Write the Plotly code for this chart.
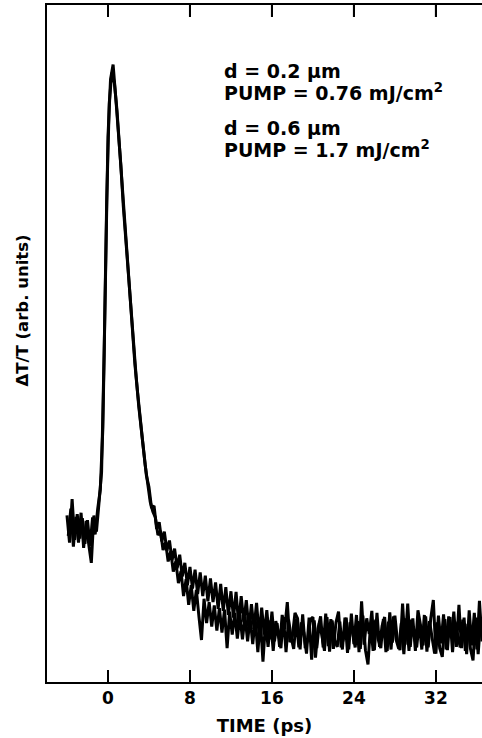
import plotly.graph_objects as go

# Time samples (ps) for the two traces
time_a = [-4.0, -3.75, -3.5, -3.25, -3.0, -2.75, -2.5, -2.25, -2.0, -1.75, -1.5, -1.25,
          -1.0, -0.75, -0.5, -0.25, 0.0, 0.25, 0.5, 0.75, 1.0, 1.25, 1.5, 1.75,
          2.0, 2.25, 2.5, 2.75, 3.0, 3.25, 3.5, 3.75, 4.0, 4.25, 4.5, 4.75,
          5.0, 5.25, 5.5, 5.75, 6.0, 6.25, 6.5, 6.75, 7.0, 7.25, 7.5, 7.75,
          8.0, 8.25, 8.5, 8.75, 9.0, 9.25, 9.5, 9.75, 10.0, 10.25, 10.5, 10.75,
          11.0, 11.25, 11.5, 11.75, 12.0, 12.25, 12.5, 12.75, 13.0, 13.25, 13.5, 13.75,
          14.0, 14.25, 14.5, 14.75, 15.0, 15.25, 15.5, 15.75, 16.0, 16.25, 16.5, 16.75,
          17.0, 17.25, 17.5, 17.75, 18.0, 18.25, 18.5, 18.75, 19.0, 19.25, 19.5, 19.75,
          20.0, 20.25, 20.5, 20.75, 21.0, 21.25, 21.5, 21.75, 22.0, 22.25, 22.5, 22.75,
          23.0, 23.25, 23.5, 23.75, 24.0, 24.25, 24.5, 24.75, 25.0, 25.25, 25.5, 25.75,
          26.0, 26.25, 26.5, 26.75, 27.0, 27.25, 27.5, 27.75, 28.0, 28.25, 28.5, 28.75,
          29.0, 29.25, 29.5, 29.75, 30.0, 30.25, 30.5, 30.75, 31.0, 31.25, 31.5, 31.75,
          32.0, 32.25, 32.5, 32.75, 33.0, 33.25, 33.5, 33.75, 34.0, 34.25, 34.5, 34.75,
          35.0, 35.25, 35.5, 35.75, 36.0, 36.25, 36.5]

# d = 0.2 um, pump 0.76 mJ/cm^2 (arb. units)
signal_a = [24.6, 20.6, 27.0, 21.0, 24.8, 21.2, 24.2, 20.4, 23.9, 20.1, 24.3, 21.8,
            25.6, 28.4, 37.5, 61.0, 80.5, 89.0, 91.2, 86.5, 82.0, 76.5, 70.2, 65.0,
            59.6, 54.2, 49.3, 45.1, 40.8, 37.4, 33.6, 30.5, 28.8, 25.7, 26.0, 22.6,
            23.6, 20.8, 22.2, 19.4, 20.9, 18.0, 19.7, 16.8, 18.8, 15.6, 17.6, 14.3,
            17.0, 13.8, 16.6, 13.0, 16.2, 12.7, 15.7, 11.9, 15.3, 11.8, 14.7, 10.8,
            14.5, 10.5, 14.0, 9.9, 13.4, 9.5, 13.3, 8.6, 12.7, 8.8, 12.1, 7.8,
            11.5, 7.9, 11.7, 6.9, 11.0, 7.0, 10.6, 6.3, 10.4, 6.0, 8.7, 5.2,
            9.9, 7.8, 11.8, 5.9, 6.8, 10.2, 9.4, 4.8, 10.0, 5.0, 6.3, 9.2,
            9.6, 3.6, 7.9, 9.7, 5.1, 10.1, 5.3, 9.3, 4.9, 8.8, 10.4, 5.1,
            6.5, 9.5, 4.8, 10.1, 5.6, 9.9, 4.4, 11.9, 5.5, 9.4, 7.1, 10.5,
            4.7, 10.2, 5.2, 8.3, 9.6, 4.6, 10.3, 5.8, 9.8, 6.0, 4.7, 11.6,
            5.5, 11.6, 5.2, 9.4, 4.6, 10.6, 8.4, 5.4, 9.7, 5.1, 9.4, 12.1,
            4.2, 9.8, 5.7, 10.0, 4.8, 9.7, 6.5, 10.4, 5.2, 11.4, 5.0, 9.5,
            4.1, 10.6, 5.4, 10.2, 4.8, 12.0, 6.0]

time_b = [-3.875, -3.625, -3.375, -3.125, -2.875, -2.625, -2.375, -2.125, -1.875, -1.625, -1.375, -1.125,
          -0.875, -0.625, -0.375, -0.125, 0.125, 0.375, 0.625, 0.875, 1.125, 1.375, 1.625, 1.875,
          2.125, 2.375, 2.625, 2.875, 3.125, 3.375, 3.625, 3.875, 4.125, 4.375, 4.625, 4.875,
          5.125, 5.375, 5.625, 5.875, 6.125, 6.375, 6.625, 6.875, 7.125, 7.375, 7.625, 7.875,
          8.125, 8.375, 8.625, 8.875, 9.125, 9.375, 9.625, 9.875, 10.125, 10.375, 10.625, 10.875,
          11.125, 11.375, 11.625, 11.875, 12.125, 12.375, 12.625, 12.875, 13.125, 13.375, 13.625, 13.875,
          14.125, 14.375, 14.625, 14.875, 15.125, 15.375, 15.625, 15.875, 16.125, 16.375, 16.625, 16.875,
          17.125, 17.375, 17.625, 17.875, 18.125, 18.375, 18.625, 18.875, 19.125, 19.375, 19.625, 19.875,
          20.125, 20.375, 20.625, 20.875, 21.125, 21.375, 21.625, 21.875, 22.125, 22.375, 22.625, 22.875,
          23.125, 23.375, 23.625, 23.875, 24.125, 24.375, 24.625, 24.875, 25.125, 25.375, 25.625, 25.875,
          26.125, 26.375, 26.625, 26.875, 27.125, 27.375, 27.625, 27.875, 28.125, 28.375, 28.625, 28.875,
          29.125, 29.375, 29.625, 29.875, 30.125, 30.375, 30.625, 30.875, 31.125, 31.375, 31.625, 31.875,
          32.125, 32.375, 32.625, 32.875, 33.125, 33.375, 33.625, 33.875, 34.125, 34.375, 34.625, 34.875,
          35.125, 35.375, 35.625, 35.875, 36.125, 36.375]

# d = 0.6 um, pump 1.7 mJ/cm^2 (arb. units)
signal_b = [21.6, 25.6, 20.0, 24.4, 20.6, 25.0, 19.8, 23.8, 20.3, 17.6, 24.6, 22.2,
            26.5, 31.0, 48.5, 71.0, 85.5, 90.0, 88.5, 84.5, 79.0, 73.5, 67.8, 62.0,
            57.0, 51.5, 47.0, 43.0, 38.8, 35.6, 32.1, 29.5, 26.6, 25.2, 24.3, 21.7,
            22.3, 19.5, 20.6, 17.8, 19.3, 16.3, 17.8, 14.6, 16.4, 12.7, 15.2, 11.4,
            14.3, 10.5, 13.6, 9.7, 6.2, 12.3, 8.7, 11.8, 8.2, 11.3, 7.6, 10.9,
            7.3, 10.7, 5.0, 10.4, 7.0, 10.2, 6.4, 9.9, 6.3, 9.7, 6.0, 9.5,
            5.6, 9.3, 4.4, 9.2, 3.0, 8.8, 5.2, 9.1, 4.6, 9.0, 7.4, 5.0,
            9.6, 4.4, 9.2, 6.6, 4.9, 9.3, 5.1, 8.8, 7.2, 4.2, 9.5, 3.3,
            9.1, 5.0, 8.7, 6.9, 4.6, 9.6, 4.5, 9.1, 6.1, 5.2, 8.9, 4.8,
            9.5, 4.3, 8.8, 7.4, 5.1, 9.0, 4.9, 9.8, 4.7, 2.6, 8.6, 4.6,
            9.2, 6.3, 5.0, 9.3, 4.4, 8.9, 4.8, 9.7, 6.2, 4.9, 8.7, 4.1,
            9.4, 4.6, 9.2, 6.9, 5.1, 8.8, 4.8, 9.9, 4.5, 9.0, 6.6, 4.2,
            8.8, 5.0, 3.7, 9.3, 4.7, 9.6, 4.4, 8.9, 7.0, 5.1, 9.2, 4.6,
            8.6, 4.9, 3.2, 9.5, 4.1, 9.3]

x_ticks = [0, 8, 16, 24, 32]
x_tick_labels = ["0", "8", "16", "24", "32"]
x_range = [-5.95, 36.5]
y_range = [0, 100]

FONT = "DejaVu Sans"
PLOT_H = 738 - 5 - 56
TICK_LEN = 12

fig = go.Figure()
fig.add_trace(go.Scatter(x=time_a, y=signal_a, mode="lines",
                         line=dict(color="black", width=3.0), showlegend=False,
                         hoverinfo="skip"))
fig.add_trace(go.Scatter(x=time_b, y=signal_b, mode="lines",
                         line=dict(color="black", width=3.0), showlegend=False,
                         hoverinfo="skip"))

# tick marks along the top frame (same time values as the bottom axis)
tick_depth = (y_range[1] - y_range[0]) * TICK_LEN / PLOT_H
top_x, top_y = [], []
for v in x_ticks:
    top_x += [v, v, None]
    top_y += [y_range[1], y_range[1] - tick_depth, None]
fig.add_trace(go.Scatter(x=top_x, y=top_y, mode="lines", cliponaxis=False,
                         line=dict(color="black", width=2), showlegend=False,
                         hoverinfo="skip"))

fig.update_layout(
    width=482, height=738,
    margin=dict(l=47, r=0, t=5, b=56, autoexpand=False),
    paper_bgcolor="white", plot_bgcolor="white",
    font=dict(family=FONT, color="black"),
    xaxis=dict(range=x_range, tickvals=x_ticks, ticktext=x_tick_labels,
               ticks="inside", ticklen=TICK_LEN, tickwidth=2, tickcolor="black",
               showline=True, linewidth=2, linecolor="black", mirror="allticks",
               showgrid=False, zeroline=False, automargin=False,
               tickfont=dict(family=FONT, size=17, color="black", weight="bold"),
               title=dict(text="TIME (ps)", font=dict(family=FONT, size=18, weight="bold"),
                          standoff=12)),
    yaxis=dict(range=y_range, showticklabels=False, ticks="",
               showline=True, linewidth=2, linecolor="black", mirror=False,
               showgrid=False, zeroline=False, automargin=False),
)

fig.add_annotation(text="ΔT/T (arb. units)", xref="paper", yref="paper",
                   x=-0.057, y=0.549, textangle=-90, showarrow=False,
                   xanchor="center", yanchor="middle",
                   font=dict(family=FONT, size=16.5, weight="bold", color="black"))

ann_lines = ["d = 0.2 μm", "PUMP = 0.76 mJ/cm<sup>2</sup>",
             "d = 0.6 μm", "PUMP = 1.7 mJ/cm<sup>2</sup>"]
ann_y = [0.9025, 0.8715, 0.8183, 0.7873]
for txt, yy in zip(ann_lines, ann_y):
    fig.add_annotation(text=txt, xref="paper", yref="paper", x=0.402, y=yy,
                       xanchor="left", yanchor="middle", showarrow=False,
                       font=dict(family=FONT, size=19, weight="bold", color="black"))

fig.write_html("out.html", config={"displayModeBar": False},
               post_script="document.body.style.margin='0';document.body.style.overflow='hidden';")
